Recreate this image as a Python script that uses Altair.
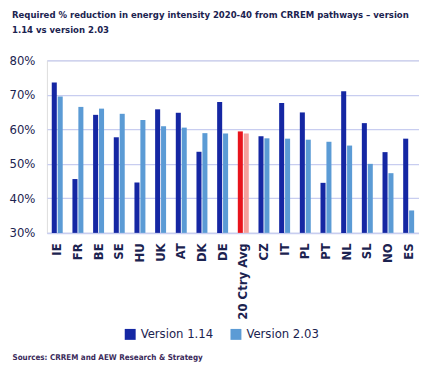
import altair as alt
import pandas as pd

countries = ["IE", "FR", "BE", "SE", "HU", "UK", "AT", "DK", "DE", "20 Ctry Avg",
             "CZ", "IT", "PL", "PT", "NL", "SL", "NO", "ES"]
v114 = [73.6, 45.6, 64.2, 57.7, 44.6, 65.8, 64.8, 53.5, 67.9, 59.4,
        58.0, 67.6, 64.9, 44.5, 71.0, 61.8, 53.4, 57.3]
v203 = [69.5, 66.5, 66.0, 64.5, 62.7, 60.9, 60.5, 58.9, 58.8, 58.8,
        57.4, 57.3, 57.0, 56.4, 55.3, 50.0, 47.3, 36.5]
series = ["Version 1.14", "Version 2.03"]

rows = []
for c, a, b in zip(countries, v114, v203):
    avg = c == "20 Ctry Avg"
    rows.append({"country": c, "series": series[0], "value": a,
                 "key": "Avg 1.14" if avg else series[0]})
    rows.append({"country": c, "series": series[1], "value": b,
                 "key": "Avg 2.03" if avg else series[1]})
df = pd.DataFrame(rows)

NAVY = "#1b2350"
FONT = "DejaVu Sans Condensed"

chart = alt.Chart(df).mark_bar().encode(
    x=alt.X("country:N", sort=countries,
            scale=alt.Scale(paddingInner=0.47, paddingOuter=0.235),
            axis=alt.Axis(title="Sources:  CRREM and AEW Research & Strategy",
                          titleX=-35, titleY=121, titleAnchor="start", titleAlign="left",
                          titleBaseline="top",
                          titleFontSize=8, titleFont=FONT, titleColor="#3a2a5a",
                          titleFontWeight="bold",
                          labelAngle=-90, labelFontSize=13, labelFont=FONT,
                          labelFontWeight="bold", labelColor=NAVY, labelPadding=10,
                          ticks=False, domainColor="#c8cdf0", domainWidth=1.5)),
    xOffset=alt.XOffset("series:N", sort=series,
                        scale=alt.Scale(paddingInner=0.15)),
    y=alt.Y("value:Q", scale=alt.Scale(domain=[30, 80], zero=False, nice=False),
            axis=alt.Axis(title=None, values=[30, 40, 50, 60, 70, 80],
                          labelExpr="datum.value + '%'", labelFontSize=13,
                          labelFont=FONT, labelColor=NAVY, labelPadding=12,
                          ticks=False, domain=False, gridColor="#c8cdf0",
                          gridWidth=1.2)),
    y2=alt.datum(30),
    color=alt.Color("key:N",
                    scale=alt.Scale(domain=["Version 1.14", "Version 2.03", "Avg 1.14", "Avg 2.03"],
                                    range=["#1527a3", "#5b9bd5", "#e8141c", "#f5a09c"]),
                    legend=alt.Legend(title=None, values=series, orient="none",
                                      legendX=77, legendY=268, direction="horizontal",
                                      symbolType="square", symbolSize=120,
                                      symbolStrokeWidth=0, labelFontSize=13,
                                      labelFont=FONT, labelColor=NAVY,
                                      columnPadding=16, labelOffset=4)),
).properties(
    width=373, height=173,
    padding={"left": 39, "top": 52, "right": 0, "bottom": 134},
    autosize=alt.AutoSizeParams(type="none"),
    title=alt.TitleParams(
        text=["Required % reduction in energy intensity 2020-40 from CRREM pathways \u2013 version",
              "1.14 vs version 2.03"],
        anchor="start", frame="group", dx=-35, offset=20, fontSize=9.5, font=FONT,
        fontWeight="bold", color=NAVY, lineHeight=15),
).configure_view(stroke=None).configure(background="white")

chart.save("out.html", embed_options={"renderer": "svg", "actions": False})
